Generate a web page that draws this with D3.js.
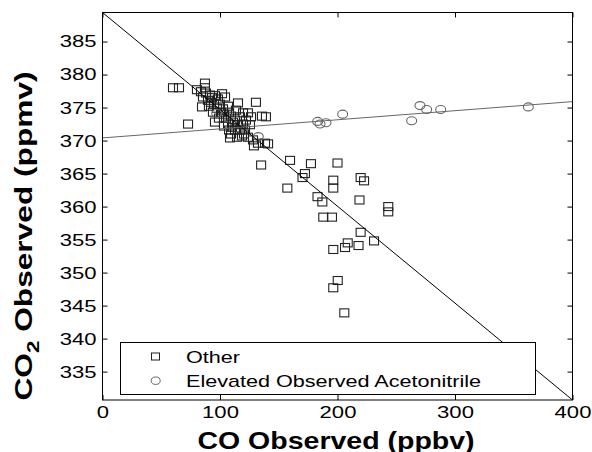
<!DOCTYPE html>
<html>
<head>
<meta charset="utf-8">
<script src="https://cdn.jsdelivr.net/npm/d3@7"></script>
<style>
  html, body { margin: 0; padding: 0; background: #fff; }
  svg { display: block; }
  text { font-family: "Liberation Sans", Arial, sans-serif; fill: #000; }
</style>
</head>
<body>
<svg id="chart" width="592" height="452"></svg>
<script>
// ---- data ----
const otherCO = [60.0, 65.1, 72.8, 87.2, 87.2, 80.4, 83.8, 88.1, 91.5, 85.5, 93.2, 89.8, 95.7, 98.3, 101.7, 104.3,
  94.9, 100.0, 90.6, 97.4, 102.6, 94.0, 106.8, 115.3, 103.4, 99.1, 107.7, 105.1, 109.4, 112.8, 117.0, 113.6,
  119.6, 123.8, 106.8, 111.1, 115.3, 119.6, 122.1, 126.4, 103.4, 107.7, 112.8, 117.0, 121.3, 109.4, 114.5, 118.7,
  108.5, 125.5, 95.7, 123.8, 128.1, 128.9, 132.3, 138.3, 140.9, 130.6, 135.7, 139.1, 135.0, 159.6, 177.4, 200.0,
  172.3, 170.2, 157.3, 196.4, 196.4, 219.7, 222.6, 183.0, 187.1, 218.7, 243.2, 243.2, 187.9, 195.3, 219.7, 231.1,
  208.7, 206.4, 217.9, 196.4, 200.2, 196.4, 205.8, 92.3, 110.2, 120.4, 100.9, 84.7];
const otherCO2 = [378.0, 378.0, 372.5, 378.7, 378.0, 377.7, 377.4, 377.2, 376.9, 376.6, 376.5, 376.1, 376.8, 376.3, 377.1, 376.6,
  375.5, 375.5, 375.2, 374.9, 374.8, 374.3, 375.2, 375.7, 374.0, 373.4, 374.3, 373.4, 373.7, 373.1, 373.6, 374.6,
  374.2, 374.2, 372.5, 372.8, 372.4, 372.5, 373.1, 373.6, 372.2, 371.6, 371.6, 371.6, 371.6, 371.0, 370.5, 370.7,
  370.4, 372.4, 372.8, 370.5, 370.1, 369.2, 369.6, 369.6, 369.5, 375.8, 373.7, 373.6, 366.3, 367.0, 366.5, 366.6,
  365.0, 364.4, 362.8, 364.0, 362.8, 364.4, 363.9, 361.5, 360.7, 361.0, 360.0, 359.2, 358.4, 358.4, 356.1, 354.8,
  354.5, 353.8, 354.1, 353.5, 348.8, 347.7, 343.9, 375.8, 372.0, 371.0, 374.3, 375.1];
const elevCO = [97.2, 132.6, 183.1, 185.1, 190.2, 204.4, 263.1, 270.2, 275.9, 287.8, 362.4];
const elevCO2 = [374.1, 370.6, 372.9, 372.5, 372.7, 374.0, 373.0, 375.3, 374.7, 374.7, 375.1];
const fitOtherCO = [0, 400];
const fitOtherCO2 = [389.4, 330.7];
const fitElevCO = [0, 400];
const fitElevCO2 = [370.4, 375.9];
const xTicks = [0, 100, 200, 300, 400];
const yTicks = [335, 340, 345, 350, 355, 360, 365, 370, 375, 380, 385];
const xDomain = [0, 400];
const yDomain = [330.7, 389.4];
const legendLabels = ["Other", "Elevated Observed Acetonitrile"];

// ---- layout ----
const L = 102.5, R = 572.5, T = 12.5, B = 400;
const svg = d3.select("#chart");
const x = d3.scaleLinear().domain(xDomain).range([L, R]);
const y = d3.scaleLinear().domain(yDomain).range([B, T]);

const SX = 1.3; // horizontal stretch of tick labels

// axes (inward ticks)
const gL = svg.append("g").attr("transform", `translate(${L},0)`)
  .call(d3.axisLeft(y).tickValues(yTicks).tickSize(-5).tickFormat(d3.format("d")));
gL.selectAll("text").attr("x", -4.6).attr("transform", `scale(${SX},1)`)
  .style("font-size", "17px").style("fill", "#000");
const gB = svg.append("g").attr("transform", `translate(0,${B})`)
  .call(d3.axisBottom(x).tickValues(xTicks).tickSize(-5).tickFormat(d3.format("d")));
gB.selectAll("text").attr("y", 18).attr("dy", 0).attr("transform", `scale(${SX},1)`)
  .style("font-size", "17px").style("fill", "#000");
const gT = svg.append("g").attr("transform", `translate(0,${T})`)
  .call(d3.axisTop(x).tickValues(xTicks).tickSize(-5).tickFormat(""));
const gR = svg.append("g").attr("transform", `translate(${R},0)`)
  .call(d3.axisRight(y).tickValues(yTicks).tickSize(-5).tickFormat(""));
[gL, gB, gT, gR].forEach(g => {
  g.select(".domain").remove();
  g.selectAll("line").attr("stroke", "#000").attr("stroke-width", 1);
});

// frame
svg.append("rect").attr("x", L).attr("y", T).attr("width", R - L).attr("height", B - T)
  .attr("fill", "none").attr("stroke", "#000").attr("stroke-width", 1);

// clip
svg.append("clipPath").attr("id", "clip").append("rect")
  .attr("x", L).attr("y", T).attr("width", R - L).attr("height", B - T);
const plot = svg.append("g").attr("clip-path", "url(#clip)");

// markers
const other = otherCO.map((v, i) => ({ x: v, y: otherCO2[i] }));
const elev = elevCO.map((v, i) => ({ x: v, y: elevCO2[i] }));
plot.selectAll("rect.o").data(other).enter().append("rect").attr("class", "o")
  .attr("x", d => x(d.x) - 4.5).attr("y", d => y(d.y) - 4)
  .attr("width", 9).attr("height", 8)
  .attr("fill", "none").attr("stroke", "#222").attr("stroke-width", 1.1);
plot.selectAll("ellipse.e").data(elev).enter().append("ellipse").attr("class", "e")
  .attr("cx", d => x(d.x)).attr("cy", d => y(d.y)).attr("rx", 5).attr("ry", 4)
  .attr("fill", "none").attr("stroke", "#666").attr("stroke-width", 1.1);

// fit lines
const line = d3.line().x(d => x(d[0])).y(d => y(d[1]));
plot.append("path").datum(fitOtherCO.map((v, i) => [v, fitOtherCO2[i]]))
  .attr("d", line).attr("fill", "none").attr("stroke", "#000").attr("stroke-width", 1);
plot.append("path").datum(fitElevCO.map((v, i) => [v, fitElevCO2[i]]))
  .attr("d", line).attr("fill", "none").attr("stroke", "#666").attr("stroke-width", 1);

// legend
const lg = svg.append("g");
lg.append("rect").attr("x", 120.5).attr("y", 342.5).attr("width", 415).attr("height", 52)
  .attr("fill", "#fff").attr("stroke", "#000").attr("stroke-width", 1);
lg.append("rect").attr("x", 151.5).attr("y", 353).attr("width", 8).attr("height", 7)
  .attr("fill", "none").attr("stroke", "#222").attr("stroke-width", 1);
lg.append("ellipse").attr("cx", 155.7).attr("cy", 380.7).attr("rx", 4.5).attr("ry", 3.7)
  .attr("fill", "none").attr("stroke", "#666").attr("stroke-width", 1);
legendLabels.forEach((t, i) => {
  lg.append("g").attr("transform", `translate(186,${363 + i * 24})`)
    .append("text").attr("transform", "scale(1.27,1)")
    .style("font-size", "17px").text(t);
});

// axis titles
svg.append("g").attr("transform", "translate(336,449)")
  .append("text").attr("transform", "scale(1.24,1)").attr("text-anchor", "middle")
  .style("font-size", "23px").style("font-weight", "bold").text("CO Observed (ppbv)");

const yl = svg.append("g").attr("transform", "translate(32,236) rotate(-90)")
  .append("text").attr("transform", "scale(1.32,1)").attr("text-anchor", "middle")
  .style("font-size", "24px").style("font-weight", "bold");
yl.append("tspan").text("CO");
yl.append("tspan").attr("dy", 7).style("font-size", "17px").text("2");
yl.append("tspan").attr("dy", -7).text(" Observed (ppmv)");
</script>
</body>
</html>
